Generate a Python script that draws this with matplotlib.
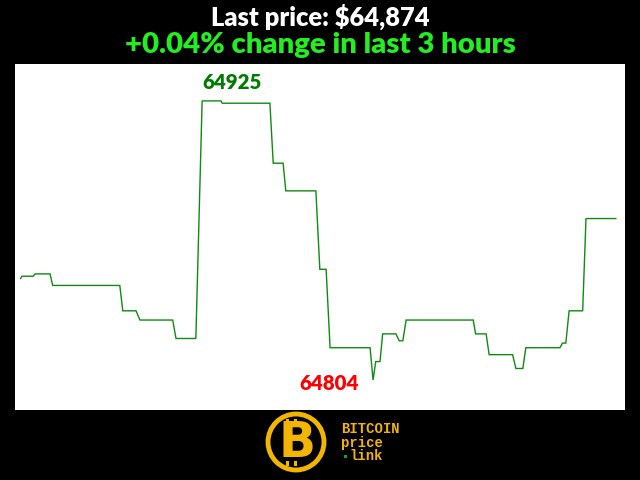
import matplotlib
matplotlib.use("Agg")
import matplotlib.pyplot as plt
from matplotlib.patches import Circle, Rectangle

# ---- data (minutes since start, price in USD) ----
minutes = [0, 0.4, 3.8, 4.4, 8.9, 9.7, 30.0, 30.9, 34.9, 36.1, 46.0, 47.0, 53.0,
           54.9, 60.6, 61.0, 75.4, 76.4, 79.4, 80.2, 89.3, 90.5, 92.4, 93.6,
           105.7, 106.6, 107.4, 108.7, 109.5, 113.5, 114.5, 115.6, 116.6, 136.9,
           137.6, 140.8, 141.7, 148.8, 149.8, 151.9, 152.8, 163.1, 163.9, 164.9,
           165.9, 170.0, 171.0, 180.0]
prices = [64848, 64849, 64849, 64850, 64850, 64845, 64845, 64834, 64834, 64830,
          64830, 64822, 64822, 64925, 64925, 64924, 64924, 64898, 64898, 64886,
          64886, 64852, 64852, 64818, 64818, 64804, 64812, 64812, 64824, 64824,
          64821, 64821, 64830, 64830, 64824, 64824, 64815, 64815, 64809, 64809,
          64818, 64818, 64820, 64820, 64834, 64834, 64874, 64874]
title_line1 = "Last price: $64,874"
title_line2 = "+0.04% change in last 3 hours"

W, H = 640, 480
fig = plt.figure(figsize=(W / 100, H / 100), dpi=100, facecolor="black")

# main plot area (white)
ax = fig.add_axes([15 / W, 1 - 410 / H, 610 / W, 346 / H])
ax.set_facecolor("white")
ax.plot(minutes, prices, color="#108a10", lw=1.0, solid_joinstyle="miter")
ax.set_xlim(-1.7, 182.8)
ax.set_ylim(64791, 64941)
ax.set_xticks([])
ax.set_yticks([])
for s in ax.spines.values():
    s.set_visible(False)

imax = prices.index(max(prices))
imin = prices.index(min(prices))
ax.annotate(str(prices[imax]), (minutes[imax], prices[imax]), xytext=(0, 18),
            textcoords="offset pixels", ha="left", va="center",
            fontsize=14.8, fontweight="heavy", color="#007a00", family="Lato")
ax.annotate(str(prices[imin]), (minutes[imin], prices[imin]), xytext=(-44, -3),
            textcoords="offset pixels", ha="center", va="center",
            fontsize=14.8, fontweight="heavy", color="#ff0000", family="Lato")

# titles
fig.text(0.5, 1 - 17 / H, title_line1, ha="center", va="center", color="white",
         fontsize=18.4, fontweight="heavy", family="Lato")
fig.text(0.5, 1 - 45 / H, title_line2, ha="center", va="center", color="#22ee22",
         fontsize=21.2, fontweight="heavy", family="Lato")

# logo overlay in pixel coordinates
ov = fig.add_axes([0, 0, 1, 1], facecolor="none")
ov.set_xlim(0, W)
ov.set_ylim(H, 0)
ov.axis("off")
gold = "#f2b600"
ov.add_patch(Circle((296, 442), 28, facecolor="black", edgecolor=gold, lw=3.5))
ov.text(297, 443, "B", ha="center", va="center", fontsize=35, fontweight="heavy",
        color=gold, family="DejaVu Sans")
ov.add_patch(Rectangle((286, 419), 3, 6, facecolor=gold, edgecolor="none"))
ov.add_patch(Rectangle((294, 419), 3, 6, facecolor=gold, edgecolor="none"))
ov.add_patch(Rectangle((286, 461), 3, 5, facecolor=gold, edgecolor="none"))
ov.add_patch(Rectangle((294, 461), 3, 5, facecolor=gold, edgecolor="none"))
ov.text(341, 429, "BITCOIN", ha="left", va="center", fontsize=10,
        fontweight="bold", color=gold, family="Liberation Mono")
ov.text(341, 442.5, "price", ha="left", va="center", fontsize=10,
        fontweight="bold", color=gold, family="Liberation Mono")
ov.text(349, 456.5, "link", ha="left", va="center", fontsize=10,
        fontweight="bold", color=gold, family="Liberation Mono")
ov.add_patch(Rectangle((344, 455), 3, 3, facecolor="#1f9f1f", edgecolor="none"))

fig.savefig("out.png", dpi=100, facecolor="black")
